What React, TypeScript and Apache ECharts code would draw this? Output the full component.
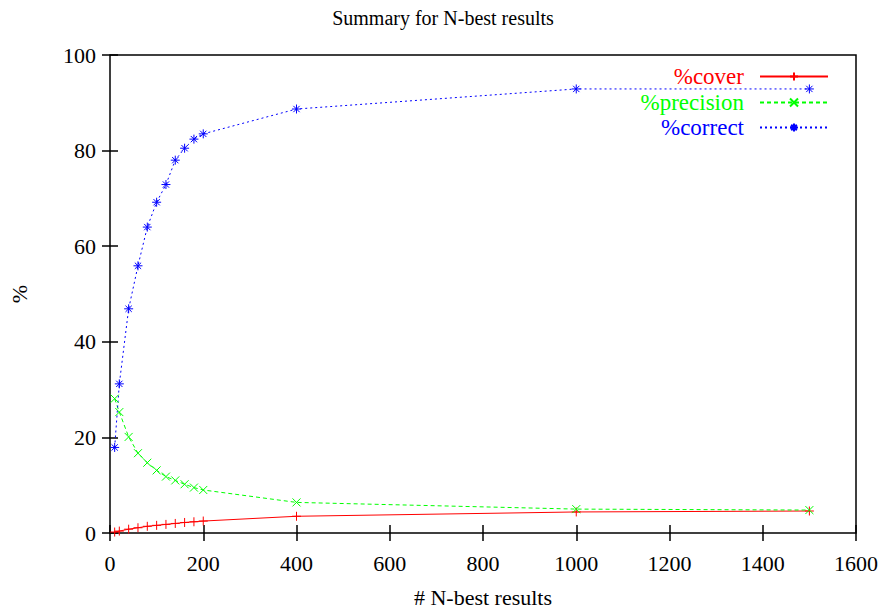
import React, { useEffect, useRef } from "react";
import * as echarts from "echarts";

const nBest = [10, 20, 40, 60, 80, 100, 120, 140, 160, 180, 200, 400, 1000, 1500];
const cover = [0.2, 0.4, 0.8, 1.1, 1.4, 1.6, 1.8, 2.0, 2.2, 2.35, 2.5, 3.5, 4.4, 4.6];
const precision = [28.1, 25.3, 20.1, 16.7, 14.7, 13.1, 11.8, 11.0, 10.2, 9.5, 9.0, 6.4, 5.0, 4.8];
const correct = [17.9, 31.2, 46.9, 55.9, 64.0, 69.2, 72.9, 78.0, 80.5, 82.4, 83.5, 88.7, 92.9, 92.9];
const xTicks = { min: 0, max: 1600, interval: 200 };
const yTicks = { min: 0, max: 100, interval: 20 };

const FONT = "'Liberation Serif', 'Times New Roman', serif";
const PLUS = "path://M5,0L5,10M0,5L10,5";
const CROSS = "path://M0,0L10,10M10,0L0,10";
const STAR = "path://M5,0L5,10M0,5L10,5M1.5,1.5L8.5,8.5M8.5,1.5L1.5,8.5";

export default function App() {
  const ref = useRef<HTMLDivElement>(null);
  useEffect(() => {
    if (!ref.current) return;
    const chart = echarts.init(ref.current, null, { renderer: "svg" });
    const pairs = (ys: number[]) => nBest.map((x, i) => [x, ys[i]]);
    const mkSeries = (name: string, ys: number[], color: string, symbol: string, type: any, size: number) => ({
      name,
      type: "line",
      data: pairs(ys),
      symbol,
      symbolSize: size,
      showSymbol: true,
      itemStyle: { color: color, borderColor: color, borderWidth: 1 },
      lineStyle: { color, width: 1, type },
      emphasis: { disabled: true },
    });
    const mkLegend = (name: string, color: string, top: number) => ({
      data: [name],
      right: 52,
      top,
      align: "right",
      itemWidth: 68,
      itemHeight: 10,
      textStyle: { color, fontFamily: FONT, fontSize: 23, padding: [0, 11, 0, 0] },
      selectedMode: false,
    });
    const axisLabel = { fontFamily: FONT, fontSize: 22, color: "#000" };
    chart.setOption({
      animation: false,
      backgroundColor: "#fff",
      title: {
        text: "Summary for N-best results",
        left: "center",
        top: 3,
        textStyle: { fontFamily: FONT, fontSize: 20, fontWeight: "normal", color: "#000" },
      },
      legend: [
        mkLegend("%cover", "#ff0000", 60),
        mkLegend("%precision", "#00ff00", 86),
        mkLegend("%correct", "#0000ff", 111),
      ],
      grid: { left: 107, right: 30, top: 55, bottom: 76, show: true, borderColor: "#000", borderWidth: 1.5, backgroundColor: "transparent" },
      xAxis: [
        {
          type: "value",
          ...xTicks,
          name: "# N-best results",
          nameLocation: "middle",
          nameGap: 53,
          nameTextStyle: { fontFamily: FONT, fontSize: 22, color: "#000" },
          axisLine: { show: false },
          axisTick: { inside: true, length: 8, lineStyle: { color: "#000", width: 1.5 } },
          axisLabel: { ...axisLabel, margin: 19, formatter: (v: number) => String(v) },
          splitLine: { show: false },
        },
        {
          type: "value",
          position: "top",
          ...xTicks,
          axisLine: { show: false },
          axisTick: { inside: true, length: 8, lineStyle: { color: "#000", width: 1.5 } },
          axisLabel: { show: false },
          splitLine: { show: false },
        },
      ],
      yAxis: [
        {
          type: "value",
          ...yTicks,
          name: "%",
          nameLocation: "middle",
          nameGap: 80,
          nameRotate: 90,
          nameTextStyle: { fontFamily: FONT, fontSize: 22, color: "#000" },
          axisLine: { show: false },
          axisTick: { inside: true, length: 8, lineStyle: { color: "#000", width: 1.5 } },
          axisLabel: { ...axisLabel, margin: 14 },
          splitLine: { show: false },
        },
        {
          type: "value",
          position: "right",
          ...yTicks,
          axisLine: { show: false },
          axisTick: { inside: true, length: 8, lineStyle: { color: "#000", width: 1.5 } },
          axisLabel: { show: false },
          splitLine: { show: false },
        },
      ],
      series: [
        mkSeries("%cover", cover, "#ff0000", PLUS, "solid", 9),
        mkSeries("%precision", precision, "#00ff00", CROSS, [4, 3], 8),
        mkSeries("%correct", correct, "#0000ff", STAR, [2, 3], 9),
      ],
    });
    return () => chart.dispose();
  }, []);
  return <div ref={ref} style={{ width: 886, height: 613, position: "absolute", left: 0, top: 0 }} />;
}
